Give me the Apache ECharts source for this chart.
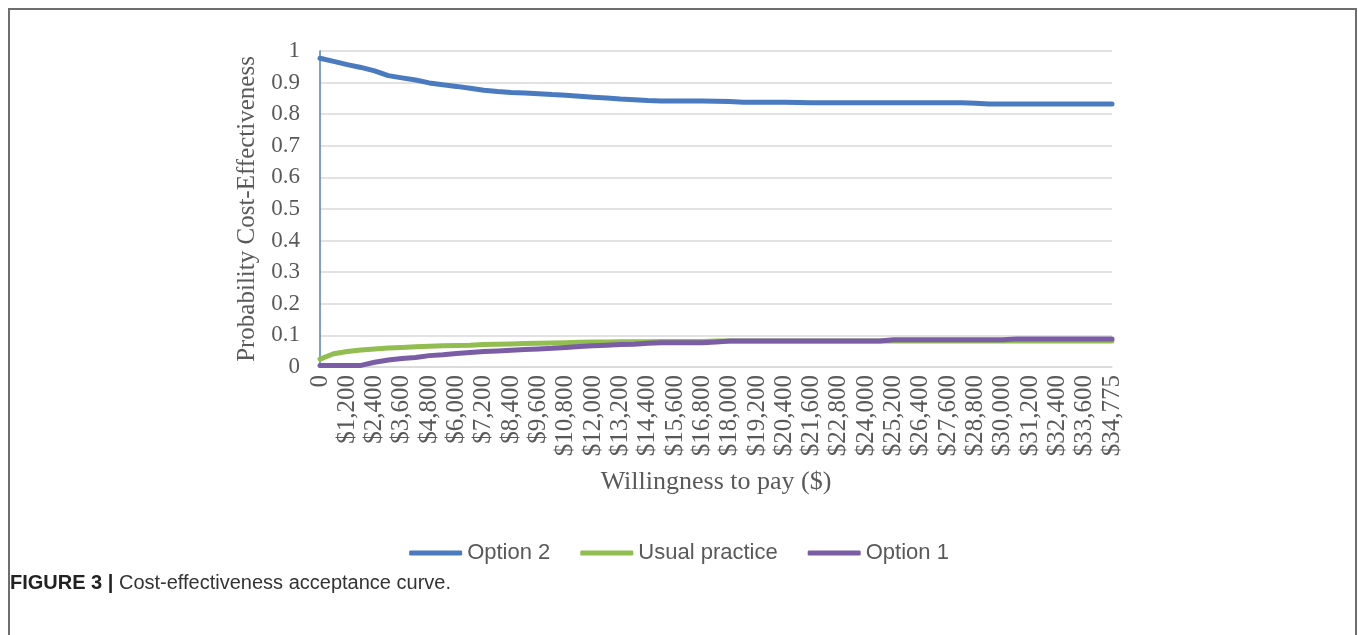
<!DOCTYPE html>
<html>
<head>
<meta charset="utf-8">
<script src="https://cdn.jsdelivr.net/npm/echarts@6/dist/echarts.min.js"></script>
<style>
  html, body { margin: 0; padding: 0; background: #fff; }
  #frame {
    position: absolute; left: 8px; top: 8px; width: 1345px; height: 700px;
    border: 2px solid #6e6e6e; border-bottom: none;
  }
  #chart { position: absolute; left: 0; top: 0; width: 1358px; height: 635px; }
  #caption {
    position: absolute; left: 10px; top: 571px;
    font-family: "Liberation Sans", Arial, sans-serif; font-size: 20px; color: #333;
  }
  #caption b { color: #222; }
</style>
</head>
<body>
<div id="frame"></div>
<div id="chart"></div>
<div id="caption"><b>FIGURE 3 |</b> Cost-effectiveness acceptance curve.</div>
<script>
// willingness to pay ($) – one category every $600, last one is $34,775
const wtp = [
  0, 600, 1200, 1800, 2400, 3000, 3600, 4200, 4800, 5400,
  6000, 6600, 7200, 7800, 8400, 9000, 9600, 10200, 10800, 11400,
  12000, 12600, 13200, 13800, 14400, 15000, 15600, 16200, 16800, 17400,
  18000, 18600, 19200, 19800, 20400, 21000, 21600, 22200, 22800, 23400,
  24000, 24600, 25200, 25800, 26400, 27000, 27600, 28200, 28800, 29400,
  30000, 30600, 31200, 31800, 32400, 33000, 33600, 34200, 34775
]

const option2 = [
  0.977, 0.967, 0.957, 0.948, 0.937, 0.922, 0.915, 0.908, 0.899, 0.893,
  0.888, 0.882, 0.876, 0.872, 0.869, 0.867, 0.865, 0.862, 0.860, 0.857,
  0.854, 0.851, 0.848, 0.846, 0.843, 0.842, 0.842, 0.842, 0.842, 0.841,
  0.840, 0.838, 0.838, 0.838, 0.838, 0.837, 0.836, 0.836, 0.836, 0.836,
  0.836, 0.836, 0.836, 0.836, 0.836, 0.836, 0.836, 0.836, 0.835, 0.832,
  0.832, 0.832, 0.832, 0.832, 0.832, 0.832, 0.832, 0.832, 0.832
]

const usualPractice = [
  0.025, 0.042, 0.049, 0.054, 0.057, 0.060, 0.062, 0.064, 0.066, 0.067,
  0.068, 0.069, 0.071, 0.072, 0.073, 0.074, 0.075, 0.076, 0.077, 0.078,
  0.079, 0.079, 0.080, 0.080, 0.080, 0.081, 0.081, 0.081, 0.081, 0.082,
  0.082, 0.082, 0.082, 0.082, 0.082, 0.082, 0.082, 0.082, 0.082, 0.082,
  0.082, 0.082, 0.082, 0.082, 0.082, 0.082, 0.082, 0.082, 0.082, 0.082,
  0.082, 0.082, 0.082, 0.082, 0.082, 0.082, 0.082, 0.082, 0.082
]

const option1 = [
  0.005, 0.005, 0.005, 0.005, 0.015, 0.022, 0.027, 0.030, 0.036, 0.039,
  0.043, 0.046, 0.049, 0.051, 0.053, 0.055, 0.057, 0.059, 0.062, 0.065,
  0.067, 0.069, 0.071, 0.072, 0.075, 0.077, 0.077, 0.077, 0.077, 0.079,
  0.082, 0.082, 0.082, 0.082, 0.082, 0.082, 0.082, 0.082, 0.082, 0.082,
  0.082, 0.082, 0.086, 0.086, 0.086, 0.086, 0.086, 0.086, 0.086, 0.086,
  0.086, 0.089, 0.089, 0.089, 0.089, 0.089, 0.089, 0.089, 0.089
]

const serif = '"Liberation Serif", "Times New Roman", serif'
const lastIdx = wtp.length - 1

function fmtWtp(v) {
  v = Number(v)
  return v === 0 ? '0' : '$' + v.toLocaleString('en-US')
}

const chart = echarts.init(document.getElementById('chart'))

chart.setOption({
  animation: false,
  grid: { left: 320, right: 246, top: 51, bottom: 268 },
  legend: {
    left: 'center', top: 537,
    icon: 'roundRect', itemWidth: 53, itemHeight: 5, itemGap: 30,
    textStyle: { fontFamily: '"Liberation Sans", Arial, sans-serif', fontSize: 22, color: '#595959' },
    data: ['Option 2', 'Usual practice', 'Option 1'],
  },
  xAxis: {
    type: 'category',
    data: wtp.map(String),
    boundaryGap: false,
    name: 'Willingness to pay ($)',
    nameLocation: 'middle',
    nameGap: 102,
    nameTextStyle: { fontFamily: serif, fontSize: 26, color: '#595959' },
    axisLine: { lineStyle: { color: '#d9d9d9', width: 1.5 } },
    axisTick: { show: false },
    axisLabel: {
      rotate: 90, fontFamily: serif, fontSize: 25, color: '#595959', margin: 8,
      interval: (i) => i % 2 === 0 || i === lastIdx,
      formatter: fmtWtp,
    },
  },
  yAxis: {
    type: 'value',
    min: 0, max: 1, interval: 0.1,
    name: 'Probability Cost-Effectiveness',
    nameLocation: 'middle',
    nameGap: 60,
    nameTextStyle: { fontFamily: serif, fontSize: 25, color: '#595959' },
    axisLine: { show: true, lineStyle: { color: '#4f81bd', width: 1.5 } },
    axisTick: { show: false },
    axisLabel: { fontFamily: serif, fontSize: 23, color: '#595959', margin: 20 },
    splitLine: { lineStyle: { color: '#d9d9d9', width: 1.5 } },
  },
  series: [
    { name: 'Option 2', type: 'line', data: option2, symbol: 'none',
      lineStyle: { width: 5, color: '#4a7bc0', cap: 'round' }, itemStyle: { color: '#4a7bc0' } },
    { name: 'Usual practice', type: 'line', data: usualPractice, symbol: 'none',
      lineStyle: { width: 5, color: '#92bd50', cap: 'round' }, itemStyle: { color: '#92bd50' } },
    { name: 'Option 1', type: 'line', data: option1, symbol: 'none',
      lineStyle: { width: 5, color: '#7b5da6', cap: 'round' }, itemStyle: { color: '#7b5da6' } },
  ],
})
</script>
</body>
</html>
